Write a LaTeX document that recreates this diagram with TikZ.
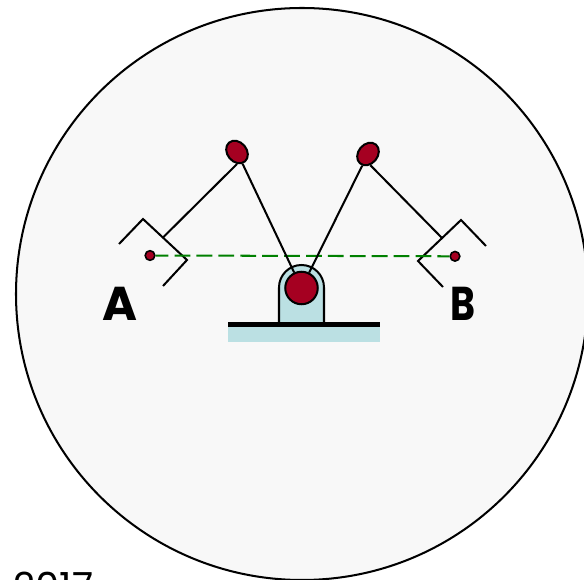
\documentclass[tikz,border=0pt]{standalone}
\usepackage{fontspec}
\usepackage{xcolor}
\usepackage{graphicx}
\setmainfont{Poppins}
\usetikzlibrary{shapes.geometric}
\definecolor{robotred}{HTML}{A50021}
\definecolor{baseblue}{HTML}{BBE0E3}
\definecolor{cellgray}{HTML}{F8F8F8}
\definecolor{pathgreen}{HTML}{008000}
\tikzset{
    armline/.style={draw=black, line width=1.15pt},
    joint/.style={ellipse, draw=black, fill=robotred, line width=1.15pt, inner sep=0pt, minimum width=14pt, minimum height=11pt},
    tipdot/.style={circle, draw=black, fill=robotred, line width=0.9pt, inner sep=0pt, minimum size=5.5pt},
    letter/.style={font=\fontsize{27}{30}\selectfont\bfseries}
}
\begin{document}
\begin{tikzpicture}[x=0.02cm,y=-0.02cm]
    \useasboundingbox (0,0) rectangle (584,580);
    \clip (0,0) rectangle (584,580);

    % Work cell
    \draw[armline, fill=cellgray] (302,294) circle (286);

    % Base
    \fill[baseblue] (228,323) rectangle (380,342);
    \draw[armline, fill=baseblue] (279,324) -- (279,287.5) arc[start angle=180, end angle=360, radius=22.5] -- (324,324);
    \fill[black] (228,322) rectangle (380,327);

    % Joints
    \node[joint, rotate=-50] (elbowL) at (237,152) {};
    \node[joint, rotate=50] (elbowR) at (368,154) {};
    \node[circle, draw=black, fill=robotred, line width=1.15pt, inner sep=0pt, minimum size=18.5pt] (shoulder) at (301.5,288) {};
    \node[tipdot] (tipA) at (150,255.5) {};
    \node[tipdot] (tipB) at (455,256.3) {};

    % Grippers
    \coordinate (wristL) at (163,237.5);
    \coordinate (wristR) at (442,238);
    \draw[armline] (119,244) -- (143,219) -- (187,260) -- (163,286);
    \draw[armline] (486,246) -- (461,220) -- (418,261) -- (443,287);

    % Path between the two stations
    \draw[pathgreen, line width=1.15pt, dash pattern=on 9pt off 3.47pt, dash phase=1.7pt] (tipA) -- (tipB);

    % Arms
    \draw[armline] (wristL) -- (elbowL.-40);
    \draw[armline] (elbowL) -- (shoulder);
    \draw[armline] (shoulder) -- (elbowR);
    \draw[armline] (elbowR.-128) -- (wristR);

    \node[letter] (labelA) at (119.5,303.5) {A};
    \node[letter] (labelB) at (462.5,303.5) {\scalebox{0.8}[1]{B}};
    \node[font=\fontsize{22}{24}\selectfont, anchor=base west, inner sep=0pt] (year) at (13,600) {2017};
\end{tikzpicture}
\end{document}
